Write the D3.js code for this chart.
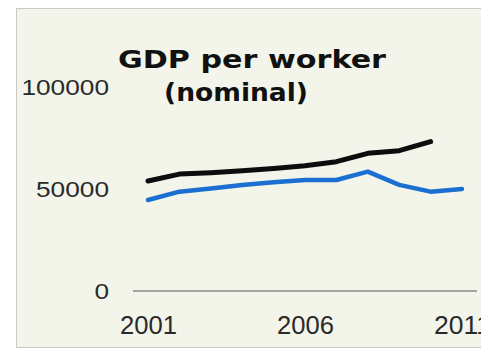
<!DOCTYPE html>
<html>
<head>
<meta charset="utf-8">
<script src="https://cdn.jsdelivr.net/npm/d3@7"></script>
<style>
  html, body { margin: 0; padding: 0; background: #ffffff; }
  svg { display: block; }
</style>
</head>
<body>
<svg id="chart" width="481" height="351"></svg>
<script>
// GDP per worker, nominal
const years = [2001, 2002, 2003, 2004, 2005, 2006, 2007, 2008, 2009, 2010, 2011];
const seriesBlack = [53900, 57300, 58000, 59000, 60100, 61400, 63400, 67500, 68800, 73200, null];
const seriesBlue  = [44600, 48700, 50300, 52000, 53300, 54400, 54400, 58500, 52000, 48700, 50000];
const yTicks = [0, 50000, 100000];
const xTicks = [2001, 2006, 2011];
const titleLines = ["GDP per worker", "(nominal)"];

const svg = d3.select("#chart");

// panel background
svg.append("rect")
  .attr("x", 16.5).attr("y", 8.5)
  .attr("width", 470).attr("height", 339)
  .attr("fill", "#f3f5ea")
  .attr("stroke", "#c9cac4").attr("stroke-width", 1);

const x = d3.scaleLinear().domain([2001, 2011]).range([148, 462]);
const y = d3.scaleLinear().domain([0, 100000]).range([291, 87]);

// baseline
svg.append("line")
  .attr("x1", 133).attr("x2", 477)
  .attr("y1", y(0)).attr("y2", y(0))
  .attr("stroke", "#a3a59c").attr("stroke-width", 2);

// y tick labels
const yAxis = d3.axisLeft(y).tickValues(yTicks).tickSize(0).tickPadding(0).tickFormat(d3.format("d"));
const gy = svg.append("g").attr("transform", "translate(109,0)").call(yAxis);
gy.select(".domain").remove();
gy.selectAll("text")
  .attr("font-family", "Liberation Sans, Arial, sans-serif")
  .attr("font-size", 22)
  .attr("font-weight", 300)
  .attr("fill", "#2a2a2a")
  .attr("dy", "0.36em")
  .attr("textLength", d => String(d).length * 14.6)
  .attr("lengthAdjust", "spacingAndGlyphs");

// x tick labels
const xAxis = d3.axisBottom(x).tickValues(xTicks).tickSize(0).tickPadding(0).tickFormat(d3.format("d"));
const gx = svg.append("g").attr("transform", "translate(0,316)").call(xAxis);
gx.select(".domain").remove();
gx.selectAll("text")
  .attr("font-family", "Liberation Sans, Arial, sans-serif")
  .attr("font-size", 25)
  .attr("fill", "#2a2a2a")
  .attr("dy", "0.72em")
  .attr("textLength", 57)
  .attr("lengthAdjust", "spacingAndGlyphs");

// series lines
const line = d3.line()
  .defined(d => d[1] != null)
  .x(d => x(d[0]))
  .y(d => y(d[1]));

svg.append("path")
  .datum(years.map((yr, i) => [yr, seriesBlue[i]]))
  .attr("d", line)
  .attr("fill", "none")
  .attr("stroke", "#1b6fd0")
  .attr("stroke-width", 4.5)
  .attr("stroke-linejoin", "round")
  .attr("stroke-linecap", "round");

svg.append("path")
  .datum(years.map((yr, i) => [yr, seriesBlack[i]]))
  .attr("d", line)
  .attr("fill", "none")
  .attr("stroke", "#0d0d0d")
  .attr("stroke-width", 5)
  .attr("stroke-linejoin", "round")
  .attr("stroke-linecap", "round");

// title
const titleSpecs = [
  { cx: 252, base: 68, len: 268 },
  { cx: 236, base: 101, len: 144 }
];
svg.selectAll("text.title")
  .data(titleLines)
  .join("text")
  .attr("class", "title")
  .attr("x", (d, i) => titleSpecs[i].cx)
  .attr("y", (d, i) => titleSpecs[i].base)
  .attr("text-anchor", "middle")
  .attr("font-family", "DejaVu Sans, sans-serif")
  .attr("font-weight", "bold")
  .attr("font-size", 25)
  .attr("fill", "#111111")
  .attr("textLength", (d, i) => titleSpecs[i].len)
  .attr("lengthAdjust", "spacingAndGlyphs")
  .text(d => d);
</script>
</body>
</html>
